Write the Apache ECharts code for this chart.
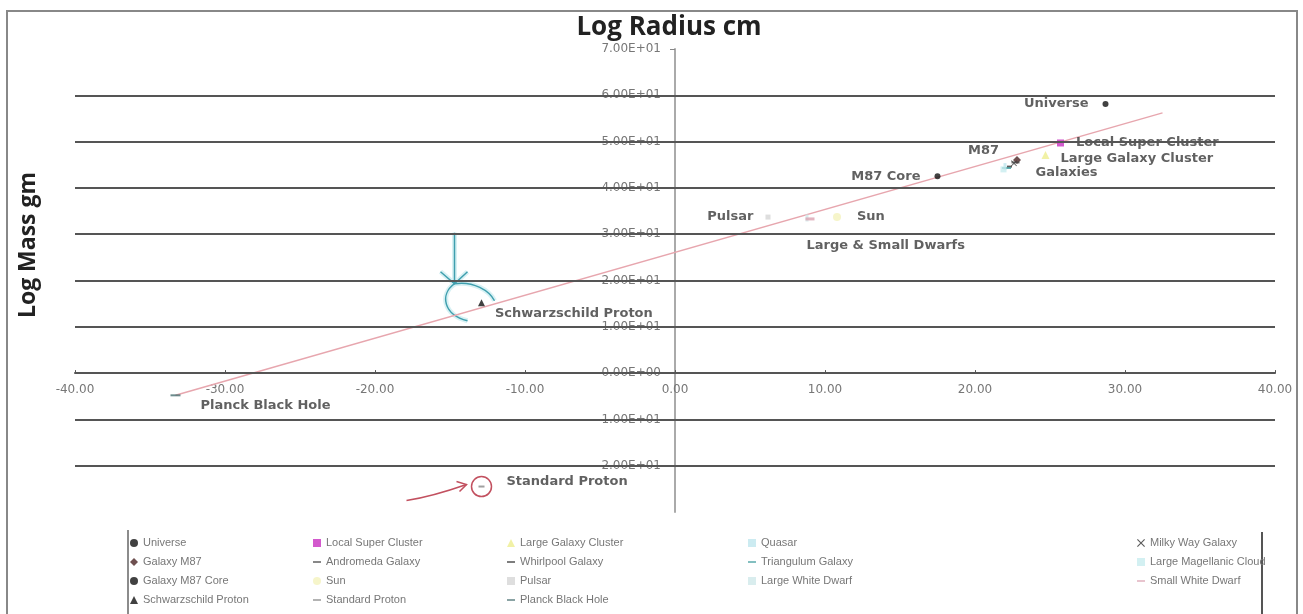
<!DOCTYPE html>
<html>
<head>
<meta charset="utf-8">
<title>Log Mass vs Log Radius</title>
<script src="https://cdn.jsdelivr.net/npm/echarts@6/dist/echarts.min.js"></script>
<style>
  html, body { margin: 0; padding: 0; background: #fff; }
  #chart { width: 1303px; height: 614px; }
</style>
</head>
<body>
<div id="chart"></div>
<script>
// 坐标轴范围与网格线
const xMin = -40, xMax = 40, xStep = 10;
const yMin = -30, yMax = 70, yStep = 10;
const gridValues = [-20, -10, 0, 10, 20, 30, 40, 50, 60];

// 天体名称（按图例顺序）
const objectNames = [
  'Universe', 'Local Super Cluster', 'Large Galaxy Cluster', 'Quasar', 'Milky Way Galaxy',
  'Galaxy M87', 'Andromeda Galaxy', 'Whirlpool Galaxy', 'Triangulum Galaxy', 'Large Magellanic Cloud',
  'Galaxy M87 Core', 'Sun', 'Pulsar', 'Large White Dwarf', 'Small White Dwarf',
  'Schwarzschild Proton', 'Standard Proton', 'Planck Black Hole'
];
// log 半径 (cm)
const logRadius = [28.7, 25.7, 24.7, 22.0, 22.6, 22.8, 22.7, 22.3, 22.1, 21.9, 17.5, 10.8, 6.2, 8.8, 9.0, -12.9, -12.9, -33.3];
// log 质量 (gm)
const logMass = [58.1, 49.7, 47.1, 44.6, 45.3, 46.0, 45.5, 44.6, 44.3, 44.0, 42.5, 33.7, 33.7, 33.5, 33.3, 15.2, -24.5, -4.8];

// 趋势线两端
const trendX = [-33.3, 32.5];
const trendY = [-4.8, 56.2];

const DASH = 'path://M0,0h10v2h-10z';
const CROSS = 'path://M0,1L1,0L5,4L9,0L10,1L6,5L10,9L9,10L5,6L1,10L0,9L4,5Z';

// 每个天体的标记样式
const markerStyles = {
  'Universe': { symbol: 'circle', size: 6, color: '#111' },
  'Local Super Cluster': { symbol: 'rect', size: 7, color: '#c82fc0' },
  'Large Galaxy Cluster': { symbol: 'triangle', size: 8, color: '#eeee90' },
  'Quasar': { symbol: 'rect', size: [3, 7], color: '#bfe6ee' },
  'Milky Way Galaxy': { symbol: CROSS, size: 6, color: '#333' },
  'Galaxy M87': { symbol: 'diamond', size: 8, color: '#4a2424' },
  'Andromeda Galaxy': { symbol: DASH, size: [8, 2], color: '#444' },
  'Whirlpool Galaxy': { symbol: DASH, size: [5, 2], color: '#333' },
  'Triangulum Galaxy': { symbol: DASH, size: [9, 2], color: '#3c9a9c' },
  'Large Magellanic Cloud': { symbol: 'rect', size: 6, color: '#c8ecef' },
  'Galaxy M87 Core': { symbol: 'circle', size: 6, color: '#111' },
  'Sun': { symbol: 'circle', size: 8, color: '#f4f3bd' },
  'Pulsar': { symbol: 'rect', size: 5, color: '#d6d6d6' },
  'Large White Dwarf': { symbol: 'rect', size: [3, 7], color: '#cfe8ea' },
  'Small White Dwarf': { symbol: DASH, size: [9, 3], color: '#dba2b2' },
  'Schwarzschild Proton': { symbol: 'triangle', size: 7, color: '#111' },
  'Standard Proton': { symbol: DASH, size: [6, 2], color: '#888' },
  'Planck Black Hole': { symbol: DASH, size: [10, 2], color: '#476f70' }
};

// 图上的文字标注
const pointLabels = {
  'Universe': { text: 'Universe', position: 'left', distance: 14 },
  'Local Super Cluster': { text: 'Local Super Cluster', position: 'right', distance: 12 },
  'Large Galaxy Cluster': { text: 'Large Galaxy Cluster', position: 'right', distance: 11, offset: [0, 4] },
  'Galaxy M87': { text: 'M87', position: 'left', distance: 14, offset: [0, -9] },
  'Andromeda Galaxy': { text: 'Galaxies', position: 'right', distance: 16, offset: [0, 10] },
  'Galaxy M87 Core': { text: 'M87 Core', position: 'left', distance: 14 },
  'Pulsar': { text: 'Pulsar', position: 'left', distance: 12 },
  'Sun': { text: 'Sun', position: 'right', distance: 16 },
  'Large White Dwarf': { text: 'Large & Small Dwarfs', position: 'right', distance: -2, offset: [0, 28] },
  'Schwarzschild Proton': { text: 'Schwarzschild Proton', position: 'right', distance: 10, offset: [0, 11] },
  'Standard Proton': { text: 'Standard Proton', position: 'right', distance: 22, offset: [0, -5] },
  'Planck Black Hole': { text: 'Planck Black Hole', position: 'right', distance: 20, offset: [0, 10] }
};

// 绘图区与图例列位置
const gridBox = { left: 75, right: 28, top: 49, bottom: 102 };
const legendLefts = [130, 313, 507, 748, 1137];

function expLabel(v) {
  const parts = v.toExponential(2).split('e');
  const n = parseInt(parts[1], 10);
  return parts[0] + 'E' + (n < 0 ? '-' : '+') + String(Math.abs(n)).padStart(2, '0');
}

const chart = echarts.init(document.getElementById('chart'));

// 坐标轴移到零点处
const plotW = 1303 - gridBox.left - gridBox.right;
const plotH = 614 - gridBox.top - gridBox.bottom;
const yAxisOffset = -plotW * (0 - xMin) / (xMax - xMin);
const xAxisOffset = -plotH * (0 - yMin) / (yMax - yMin);

const pointSeries = objectNames.map((name, i) => {
  const st = markerStyles[name];
  const lb = pointLabels[name];
  return {
    name: name,
    type: 'scatter',
    z: 4,
    symbol: st.symbol,
    symbolSize: st.size,
    itemStyle: { color: st.color },
    data: [[logRadius[i], logMass[i]]],
    label: lb ? {
      show: true,
      formatter: lb.text,
      position: lb.position,
      distance: lb.distance,
      offset: lb.offset || [0, 0],
      fontFamily: 'DejaVu Sans',
      fontWeight: 'bold',
      fontSize: 13,
      color: '#3a3a3a'
    } : { show: false },
    emphasis: { disabled: true }
  };
});

const legends = legendLefts.map((left, k) => ({
  orient: 'vertical',
  left: left,
  top: 537,
  padding: 0,
  itemWidth: 8,
  itemHeight: 8,
  itemGap: 7,
  selectedMode: false,
  textStyle: { fontFamily: 'Liberation Sans', fontSize: 11, lineHeight: 12, color: '#777' },
  data: objectNames.filter((_, i) => i % 5 === k)
}));

const option = {
  animation: false,
  backgroundColor: '#fff',
  title: {
    text: 'Log Radius cm',
    left: 664,
    textAlign: 'center',
    top: 10,
    textStyle: { fontFamily: 'Open Sans', fontWeight: 'bold', fontSize: 26, color: '#222' }
  },
  legend: legends,
  grid: { left: gridBox.left, right: gridBox.right, top: gridBox.top, bottom: gridBox.bottom, containLabel: false },
  xAxis: {
    type: 'value',
    min: xMin,
    max: xMax,
    interval: xStep,
    offset: xAxisOffset,
    axisLine: { onZero: false, lineStyle: { color: '#555', width: 2 } },
    axisTick: { inside: true, length: 3, lineStyle: { color: '#555' } },
    splitLine: { show: false },
    axisLabel: {
      margin: 11,
      fontFamily: 'DejaVu Sans',
      fontSize: 12,
      color: '#777',
      formatter: v => v.toFixed(2)
    }
  },
  yAxis: {
    type: 'value',
    min: yMin,
    max: yMax,
    interval: yStep,
    offset: yAxisOffset,
    axisLine: { onZero: false, lineStyle: { color: '#aaa', width: 2 } },
    axisTick: { show: true, length: 5, lineStyle: { color: '#888' } },
    splitLine: { show: false },
    axisLabel: {
      margin: 14,
      showMinLabel: false,
      fontFamily: 'DejaVu Sans',
      fontSize: 12,
      color: '#777',
      formatter: v => expLabel(v)
    }
  },
  series: [
    {
      name: 'grid',
      type: 'line',
      data: [],
      z: 1,
      silent: true,
      markLine: {
        silent: true,
        symbol: 'none',
        label: { show: false },
        lineStyle: { color: '#555', width: 2, type: 'solid' },
        data: gridValues.map(v => ({ yAxis: v }))
      }
    },
    {
      name: 'trend',
      type: 'line',
      z: 3,
      silent: true,
      showSymbol: false,
      lineStyle: { color: '#e7a6ae', width: 1.5 },
      data: trendX.map((x, i) => [x, trendY[i]])
    }
  ].concat(pointSeries)
};

chart.setOption(option);

// 手绘批注（按数据点位置换算）
function noteStroke(color, width) {
  return { fill: 'none', stroke: color, lineWidth: width };
}

function drawNotes() {
  const sp = chart.convertToPixel({ gridIndex: 0 }, [logRadius[15], logMass[15]]);
  const pp = chart.convertToPixel({ gridIndex: 0 }, [logRadius[16], logMass[16]]);
  const teal = '#3f9fae';
  const glow = '#d8f1f4';
  const red = '#c2505f';

  const tealParts = (color, width) => [
    { type: 'polyline', shape: { points: [[-27, -70], [-27, -19]] }, style: noteStroke(color, width) },
    { type: 'polyline', shape: { points: [[-41, -31], [-27, -19], [-14, -31]] }, style: noteStroke(color, width) },
    { type: 'bezierCurve', shape: { x1: -27, y1: -19, cpx1: -42, cpy1: -8, cpx2: -38, cpy2: 12, x2: -14, y2: 18 }, style: noteStroke(color, width) },
    { type: 'bezierCurve', shape: { x1: -27, y1: -19, cpx1: -8, cpy1: -22, cpx2: 8, cpy2: -12, x2: 13, y2: -2 }, style: noteStroke(color, width) }
  ];

  chart.setOption({
    graphic: [
      {
        type: 'rect',
        shape: { x: 7, y: 11, width: 1290, height: 640 },
        style: { fill: 'none', stroke: '#888', lineWidth: 2 },
        silent: true
      },
      {
        type: 'line',
        shape: { x1: 128, y1: 530, x2: 128, y2: 614 },
        style: { stroke: '#666', lineWidth: 1.5 },
        silent: true
      },
      {
        type: 'line',
        shape: { x1: 1262, y1: 532, x2: 1262, y2: 614 },
        style: { stroke: '#555', lineWidth: 2 },
        silent: true
      },
      {
        type: 'group',
        x: sp[0],
        y: sp[1],
        silent: true,
        children: tealParts(glow, 5).concat(tealParts(teal, 1.5))
      },
      {
        type: 'group',
        x: pp[0],
        y: pp[1],
        silent: true,
        children: [
          { type: 'circle', shape: { cx: 0, cy: 0, r: 10 }, style: noteStroke(red, 1.5) },
          { type: 'bezierCurve', shape: { x1: -75, y1: 14, cpx1: -55, cpy1: 11, cpx2: -35, cpy2: 5, x2: -15, y2: -2 }, style: noteStroke(red, 1.5) },
          { type: 'polyline', shape: { points: [[-25, -5], [-15, -2], [-22, 5]] }, style: noteStroke(red, 1.5) }
        ]
      },
      {
        type: 'text',
        x: 28,
        y: 245,
        rotation: Math.PI / 2,
        style: {
          text: 'Log Mass gm',
          fontFamily: 'Open Sans',
          fontWeight: 'bold',
          fontSize: 23,
          fill: '#222',
          align: 'center',
          verticalAlign: 'middle'
        },
        silent: true
      }
    ]
  });
}

drawNotes();

window.addEventListener('resize', function() {
  chart.resize();
  drawNotes();
});
</script>
</body>
</html>
